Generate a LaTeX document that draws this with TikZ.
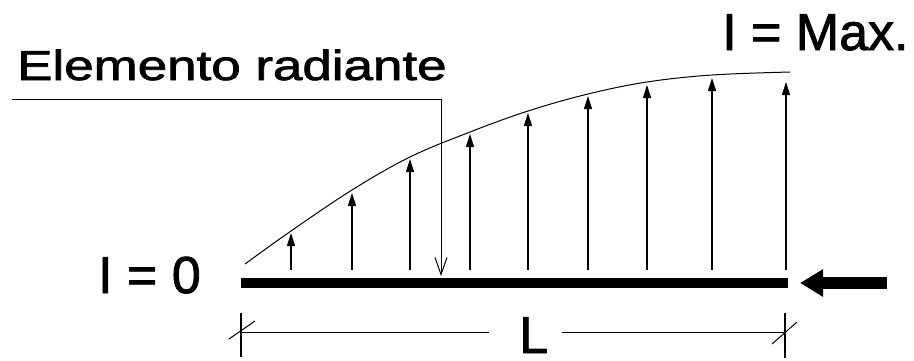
\documentclass[tikz,border=0pt]{standalone}
\usepackage{fontspec}
\usepackage{graphicx}
\setmainfont{Liberation Sans}
\newfontfamily\medfont[FakeBold=1.6]{Liberation Sans}
\usetikzlibrary{arrows.meta}
\tikzset{
  lbl/.style={inner sep=0pt, font=\medfont\fontsize{52}{60}\selectfont},
  thinline/.style={line width=1pt},
  uparrow/.style={line width=1.1pt, -{Triangle[length=13pt,width=8pt]}},
  bar/.style={line width=10pt},
}
\begin{document}
\begin{tikzpicture}[x=1pt,y=-1pt]
\useasboundingbox (0,0) rectangle (914,360);
% labels
\node[lbl, anchor=base west] (imax) at (722,50) {I = Max.};
\node[lbl, anchor=base east] (izero) at (201,293) {I = 0};
\node[lbl, anchor=base west] (L) at (519,353) {L};
\node[inner sep=0pt, anchor=base west, font=\medfont\fontsize{42}{50}\selectfont] (elem) at (17,80) {\scalebox{1.26}[1]{Elemento radiante}};
% radiating element (bar)
\coordinate (b0) at (241,283);
\coordinate (b1) at (788,283);
\draw[bar] (b0) -- (b1);
% feed arrow
\coordinate (f0) at (887,283);
\coordinate (f1) at (800,283);
\draw[line width=12pt, -{Triangle[length=23pt,width=26pt]}] (f0) -- (f1);
% current distribution curve
\draw[thinline] plot[smooth, tension=0.6] coordinates {(245,264) (291,231) (352,190) (410,157) (470,132) (528,111) (588,94) (647,82) (712,75) (790,72)};
% arrows
\foreach \x/\t [count=\i] in {291/233, 352/193, 410/159, 470/134, 528/113, 588/96, 647/85, 712/78, 786/82}{
  \coordinate (a\i) at (\x,270);
  \coordinate (t\i) at (\x,\t);
  \draw[uparrow] (a\i) -- (t\i);
}
% leader to element
\coordinate (l0) at (12,99);
\coordinate (l1) at (441,99);
\coordinate (l2) at (441,276);
\draw[thinline, -{Straight Barb[length=17pt,width=12pt]}] (l0) -- (l1) -- (l2);
% dimension line
\coordinate (d0) at (241,332);
\coordinate (d1) at (489,332);
\coordinate (d2) at (562,332);
\coordinate (d3) at (785,332);
\draw[thinline] (d0) -- (d1);
\draw[thinline] (d2) -- (d3);
\coordinate (k0a) at (241,313);
\coordinate (k0b) at (241,357);
\coordinate (k1a) at (785,313);
\coordinate (k1b) at (785,358);
\draw[line width=1.3pt] (k0a) -- (k0b);
\draw[line width=1.3pt] (k1a) -- (k1b);
\coordinate (s0a) at (229,339);
\coordinate (s0b) at (255,321);
\coordinate (s1a) at (772,344);
\coordinate (s1b) at (797,322);
\draw[thinline] (s0a) -- (s0b);
\draw[thinline] (s1a) -- (s1b);
\end{tikzpicture}
\end{document}
